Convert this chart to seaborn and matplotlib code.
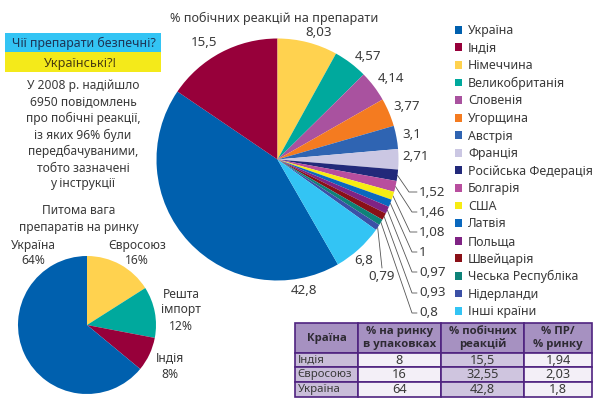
import matplotlib
matplotlib.use("Agg")
import matplotlib.pyplot as plt
from matplotlib.table import Table
import numpy as np
import seaborn as sns

# ---------- data ----------
countries = ["Україна", "Індія", "Німеччина", "Великобританія", "Словенія", "Угорщина",
             "Австрія", "Франція", "Російська Федерація", "Болгарія", "США", "Латвія",
             "Польща", "Швейцарія", "Чеська Республіка", "Нідерланди", "Інші країни"]
reactions = [42.8, 15.5, 8.03, 4.57, 4.14, 3.77, 3.1, 2.71, 1.52, 1.46, 1.08, 1, 0.97,
             0.93, 0.8, 0.79, 6.8]
market_names = ["Євросоюз", "Решта імпорт", "Індія", "Україна"]
market_share = [16, 12, 8, 64]
table_header = ["Країна", "% на ринку\nв упаковках", "% побічних\nреакцій", "% ПР/\n% ринку"]
table_rows = [["Індія", "8", "15,5", "1,94"],
              ["Євросоюз", "16", "32,55", "2,03"],
              ["Україна", "64", "42,8", "1,8"]]

# ---------- styles ----------
main_colors = ["#0060AE", "#97003A", "#FFD24F", "#00A99D", "#A9529F", "#F47B20", "#2F64B2",
               "#CBC7E3", "#22297A", "#B84E9E", "#F7EC13", "#0A68BE", "#7F2384", "#8A1017",
               "#0E8278", "#3B50A6", "#33C4F4"]
small_colors = ["#FFD24F", "#00A99D", "#97003A", "#0060AE"]
INK = "#3a3a3a"
W, H = 600, 403

sns.set_theme(style="white")
plt.rcParams["font.family"] = ["Noto Sans", "DejaVu Sans"]
plt.rcParams["text.color"] = INK

fig = plt.figure(figsize=(W / 100, H / 100), dpi=100, facecolor="white")
bg = fig.add_axes([0, 0, 1, 1])
bg.set_xlim(0, W)
bg.set_ylim(H, 0)
bg.axis("off")


def pie_axes(cx, cy, r):
    ax = fig.add_axes([(cx - r) / W, 1 - (cy + r) / H, 2 * r / W, 2 * r / H])
    ax.axis("off")
    return ax


def comma(v):
    return f"{v}".replace(".", ",")


# ---------- main pie ----------
MCX, MCY, MR = 277.5, 159.5, 121
ax1 = pie_axes(MCX, MCY, MR)
start = 90 + (reactions[0] + reactions[1]) / sum(reactions) * 360
wedges, _ = ax1.pie(reactions, colors=sns.color_palette(main_colors), startangle=start,
                    counterclock=False, wedgeprops=dict(linewidth=0))
ax1.set_xlim(-1, 1)
ax1.set_ylim(-1, 1)

bg.text(274, 18, "% побічних реакцій на препарати", ha="center", va="center", fontsize=9.1)

# labels placed by hand (pixels), in the order of `reactions`
label_xy = {0: (304, 290), 1: (204, 43), 2: (319, 33), 3: (368, 57), 4: (391, 78),
            5: (407, 107), 6: (412, 134), 7: (416, 157), 16: (364, 261), 15: (382, 276)}
for i, (x, y) in label_xy.items():
    bg.text(x, y, comma(reactions[i]), ha="center", va="center", fontsize=9.6)

# leader-line rows (pixels) for the thin slices
leader_rows = {8: (409, 192), 9: (412, 212), 10: (410, 232), 11: (412, 252),
               12: (412, 272), 13: (412, 293), 14: (412, 313)}
for i, (ex, ey) in leader_rows.items():
    th = np.deg2rad((wedges[i].theta1 + wedges[i].theta2) / 2)
    sx, sy = MCX + MR * np.cos(th), MCY - MR * np.sin(th)
    bg.plot([sx, ex, 417], [sy, ey, ey], color="#555555", lw=0.6, zorder=0)
    bg.text(419, ey, comma(reactions[i]), ha="left", va="center", fontsize=9.6)
th = np.deg2rad((wedges[15].theta1 + wedges[15].theta2) / 2)
bg.plot([MCX + MR * np.cos(th), 382], [MCY - MR * np.sin(th), 268], color="#555555", lw=0.6)

# ---------- legend ----------
fig.legend(wedges, countries, loc="upper left", bbox_to_anchor=(455 / W, 1 - 24 / H),
           frameon=False, fontsize=8.9, handlelength=0.6, handleheight=0.6,
           handletextpad=0.45, labelspacing=0.37, borderpad=0, borderaxespad=0,
           labelcolor=INK)

# ---------- headline block ----------
bg.fill_between([5, 161], 33, 52, color="#33C4F4", lw=0)
bg.fill_between([5, 161], 52, 72, color="#F4EA1A", lw=0)
bg.text(84, 43, "Чії препарати безпечні?", ha="center", va="center", fontsize=8.9, color="#1d3557")
bg.text(80, 64, "Українські?!", ha="center", va="center", fontsize=9.1, color="#4a3d10")
note = ["У 2008 р. надійшло", "6950 повідомлень", "про побічні реакції,",
        "із яких 96% були", "передбачуваними,", "тобто зазначені", "у інструкції"]
for line, y in zip(note, [85, 102, 118, 135, 151, 168, 184]):
    bg.text(83, y, line, ha="center", va="center", fontsize=8.7)

# ---------- small pie ----------
ax2 = pie_axes(87, 325, 69)
ax2.pie(market_share, colors=sns.color_palette(small_colors), startangle=90,
        counterclock=False, wedgeprops=dict(linewidth=0))
ax2.set_xlim(-1, 1)
ax2.set_ylim(-1, 1)

bg.text(79, 211, "Питома вага", ha="center", va="center", fontsize=8.7)
bg.text(79, 228, "препаратів на ринку", ha="center", va="center", fontsize=8.7)
small_text = [(137, [246, 261], ["Євросоюз"]), (181, [294, 310, 326], ["Решта", "імпорт"]),
              (170, [358, 374], ["Індія"]), (33, [246, 261], ["Україна"])]
for v, (x, ys, names) in zip(market_share, small_text):
    for line, y in zip(names + [f"{v}%"], ys):
        bg.text(x, y, line, ha="center", va="center", fontsize=8.7)

# ---------- table ----------
col_edges = [295, 358, 441, 524, 592]
row_edges = [323, 353, 367, 382, 397]
header_c = "#A691C1"
body_c = ["#C9BDD9", "#F3EFF7", "#CFC5DF", "#F3EFF7"]
EDGE = "#4F2380"
tb = Table(bg, bbox=[col_edges[0] / W, 1 - row_edges[-1] / H,
                     (col_edges[-1] - col_edges[0]) / W, (row_edges[-1] - row_edges[0]) / H])
widths = np.diff(col_edges) / W
heights = np.diff(row_edges) / H
for c, txt in enumerate(table_header):
    cell = tb.add_cell(0, c, widths[c], heights[0], text=txt, loc="center", facecolor=header_c,
                       edgecolor=EDGE)
    cell.get_text().set_fontfamily(["Open Sans", "DejaVu Sans"])
    cell.get_text().set_fontweight("bold")
    cell.get_text().set_fontsize(8.2)
    cell.get_text().set_color("#2e2a33")
    cell.set_linewidth(1.2)
for r, row in enumerate(table_rows, start=1):
    for c, txt in enumerate(row):
        cell = tb.add_cell(r, c, widths[c], heights[r], text=txt,
                           loc="left" if c == 0 else "center", facecolor=body_c[c],
                           edgecolor=EDGE)
        cell.get_text().set_fontsize(8.2 if c == 0 else 9.2)
        cell.get_text().set_color(INK)
        cell.set_linewidth(1.2)
        cell.PAD = 0.04
tb.auto_set_font_size(False)
bg.add_table(tb)

fig.savefig("out.png", dpi=100)
